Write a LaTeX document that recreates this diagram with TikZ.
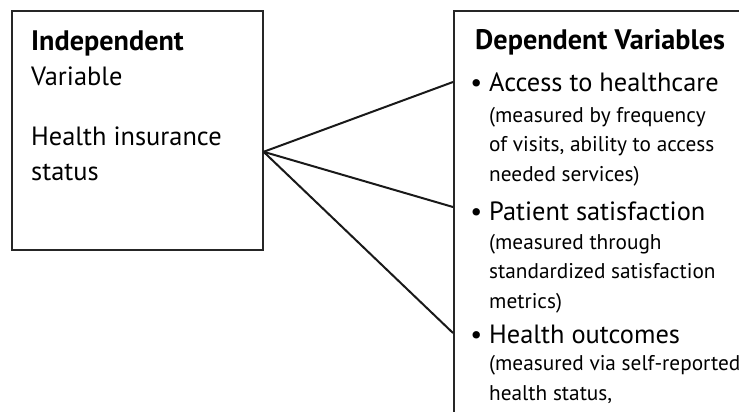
\documentclass[tikz,border=0pt]{standalone}
\usepackage{fontspec}
\setmainfont{PT Sans}
\usetikzlibrary{positioning}

\tikzset{
    varbox/.style={draw=black!85, line width=1.6pt, anchor=north west, inner sep=0pt},
    vartext/.style={anchor=base west, align=left, inner sep=0pt, text=black},
    measure/.style={vartext, font=\fontsize{21.3}{29.5}\selectfont},
    link/.style={line width=2pt, black!90},
}
\newcommand{\bul}{\llap{\textbullet\hspace{7pt}}}
\newcommand{\heading}{\bfseries\fontsize{28.2}{35}\selectfont}

\begin{document}
\begin{tikzpicture}[x=1pt, y=-1pt]
    \useasboundingbox (0,0) rectangle (739,412);
    \clip (0,0) rectangle (739,412);

    % boxes (the right one runs off the page)
    \node[varbox, minimum width=251pt, minimum height=239pt] (indep) at (11,10) {};
    \node[varbox, minimum width=330pt, minimum height=440pt] (dep) at (453,10) {};

    % left side (multi-line nodes sit on their last baseline)
    \node[vartext, font=\fontsize{26.4}{35}\selectfont] (indeptxt) at (31,180)
        {{\heading Independent}\\Variable\\[25pt]Health insurance\\status};

    % right side
    \node[vartext, font=\heading] (deptitle) at (475,50) {Dependent Variables};

    \node[vartext, font=\fontsize{26.4}{30}\selectfont] (access) at (489,92) {\bul Access to healthcare};
    \node[measure] (accessm) at (489,181)
        {(measured by frequency\\of visits, ability to access\\needed services)};

    \node[vartext, font=\fontsize{26.4}{30}\selectfont] (satis) at (489,220) {\bul Patient satisfaction};
    \node[measure] (satism) at (489,308)
        {(measured through\\standardized satisfaction\\metrics)};

    \node[vartext, font=\fontsize{26.4}{30}\selectfont] (outcome) at (489,343) {\bul Health outcomes};
    \node[measure] (outcomem) at (489,400)
        {(measured via self-reported\\health status,};

    % connectors
    \coordinate (hub) at ([yshift=-21.5pt]indep.east);
    \coordinate (toaccess) at (453,82);
    \coordinate (tosatis) at (453,207);
    \coordinate (tooutcome) at (453,333);
    \draw[link] (hub) -- (toaccess);
    \draw[link] (hub) -- (tosatis);
    \draw[link] (hub) -- (tooutcome);
\end{tikzpicture}
\end{document}
